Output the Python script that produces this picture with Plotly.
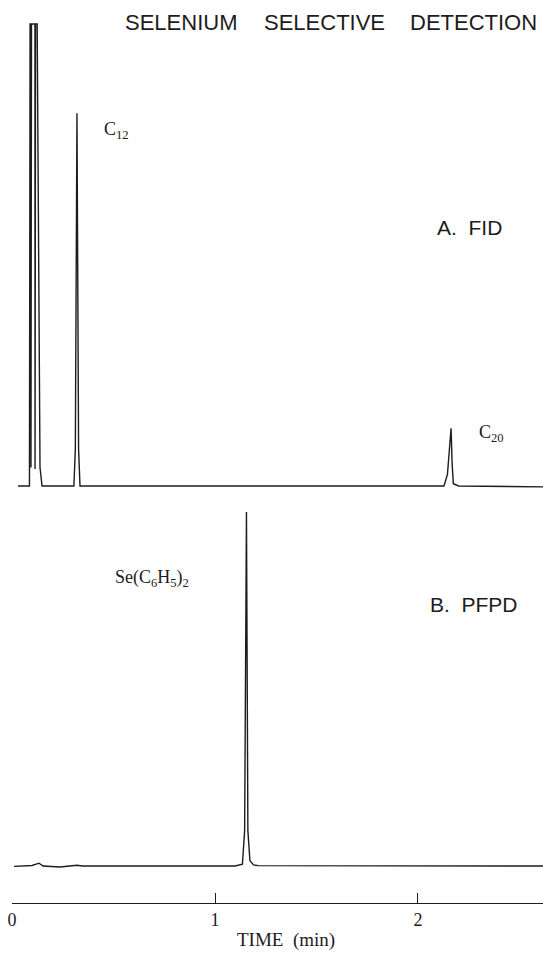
import plotly.graph_objects as go

# ---- data (time in min, relative signal) ----
fid_time = [0.030, 0.086, 0.089, 0.0925, 0.0935, 0.096, 0.113, 0.1135, 0.116, 0.124,
            0.131, 0.138, 0.148,
            0.305, 0.312, 0.320, 0.328, 0.335,
            1.200, 2.128, 2.145, 2.155, 2.163, 2.168, 2.174, 2.200, 2.616]
fid_signal = [0.0, 0.0, 100.0, 100.0, 4.0, 100.0, 100.0, 3.7, 100.0, 100.0,
              40.0, 4.0, 0.0,
              0.0, 8.0, 80.7, 8.0, 0.0,
              0.0, 0.0, 2.5, 7.5, 12.5, 5.0, 0.5, 0.0, -0.2]

pfpd_time = [0.010, 0.079, 0.099, 0.133, 0.153, 0.236, 0.300, 0.320, 0.345,
             1.099, 1.135, 1.146, 1.155, 1.162, 1.172, 1.190, 1.212, 2.000, 2.616]
pfpd_signal = [-0.1, 0.0, 0.15, 0.8, 0.0, -0.3, 0.0, 0.2, 0.0,
               0.0, 0.5, 10.0, 100.0, 10.0, 1.5, 0.3, 0.1, 0.1, 0.0]

x_ticks = [0, 1, 2]
x_tick_labels = ["0", "1", "2"]

W, H = 543, 954
L, R, T, B = 12, 0, 0, 51
PW, PH = W - L - R, H - T - B

def px(x):
    return (x - L) / PW

def py(y):
    return 1 - (y - T) / PH

split = py(495)
ink = "#1c1c1c"

fig = go.Figure()
fig.add_trace(go.Scatter(x=fid_time, y=fid_signal, mode="lines",
                         line=dict(color=ink, width=1.4), xaxis="x", yaxis="y",
                         showlegend=False, hoverinfo="skip"))
fig.add_trace(go.Scatter(x=pfpd_time, y=pfpd_signal, mode="lines",
                         line=dict(color=ink, width=1.4), xaxis="x", yaxis="y2",
                         showlegend=False, hoverinfo="skip"))

serif = "Liberation Serif"
sans = "Liberation Sans"

ann = []
def add(text, x, y, size, family, xanchor="left"):
    ann.append(dict(text=text, x=px(x), y=py(y), xref="paper", yref="paper",
                    xanchor=xanchor, yanchor="middle", showarrow=False,
                    font=dict(size=size, family=family, color=ink)))

add("SELENIUM", 123, 22, 22, sans)
add("SELECTIVE", 262, 22, 22, sans)
add("DETECTION", 539, 22, 22, sans, xanchor="right")
add("A.  FID", 435, 227, 21, sans)
add("B.  PFPD", 428, 604, 21, sans)
add("C<sub>12</sub>", 102, 130, 18, serif)
add("C<sub>20</sub>", 477, 434, 18, serif)
add("Se(C<sub>6</sub>H<sub>5</sub>)<sub>2</sub>", 113, 578, 18, serif)
add("TIME  (min)", 286, 940, 19, serif, xanchor="center")

fig.update_layout(
    width=W, height=H,
    margin=dict(l=L, r=R, t=T, b=B),
    paper_bgcolor="white", plot_bgcolor="white",
    xaxis=dict(range=[0, 2.6158], anchor="y2", showgrid=False, zeroline=False,
               showline=True, linecolor=ink, linewidth=1.2,
               tickmode="array", tickvals=x_ticks, ticktext=x_tick_labels,
               ticks="inside", ticklen=10, tickwidth=1.2, tickcolor=ink,
               tickfont=dict(family=serif, size=18, color=ink)),
    yaxis=dict(domain=[split, 1], range=[-1.95, 105.19], visible=False),
    yaxis2=dict(domain=[0, split], range=[-10.45, 104.8], visible=False),
    annotations=ann,
)

fig.write_html("out.html")
